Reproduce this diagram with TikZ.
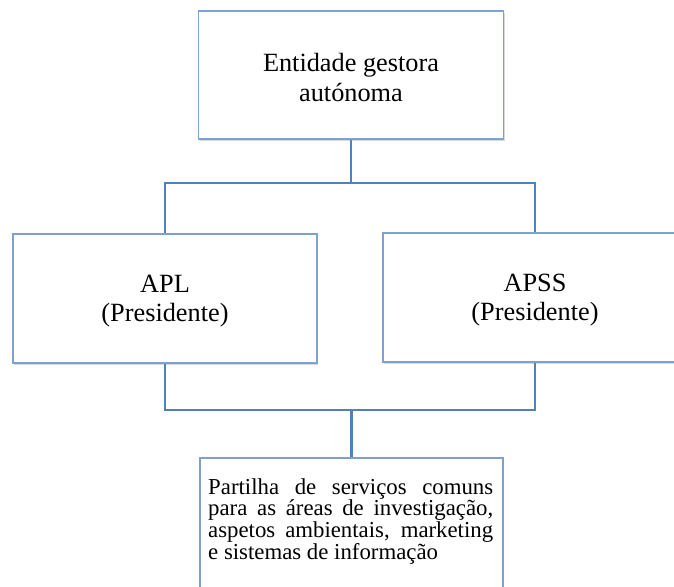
\documentclass[tikz,border=0pt]{standalone}
\usepackage{fontspec}
\setmainfont{Liberation Serif}
\usetikzlibrary{shadows}
\definecolor{linkblue}{RGB}{79,129,189}
\definecolor{boxblue}{RGB}{125,162,208}
\begin{document}
\begin{tikzpicture}[x=1pt,y=-1pt,
  orgbox/.style={draw=boxblue, line width=1.6pt, fill=white, rectangle, inner sep=0pt,
    drop shadow={shadow xshift=1.2pt, shadow yshift=-2pt, opacity=0.3, fill=black!50}},
  bigtext/.style={font=\fontsize{26.3}{30}\selectfont, align=center},
  link/.style={draw=linkblue, line width=2.8pt}]
\useasboundingbox (0,0) rectangle (674,586);
\clip (0,0) rectangle (674,586);
% boxes
\node[orgbox, minimum width=305pt, minimum height=128pt] (top) at (351,75) {};
\node[bigtext] at ([yshift=-3pt]top.center) {Entidade gestora\\autónoma};
\node[orgbox, minimum width=304pt, minimum height=129pt] (apl) at (165,298.5) {};
\node[bigtext, font=\fontsize{26.3}{29}\selectfont] at ([yshift=-3pt]apl.center) {APL\\(Presidente)};
\node[orgbox, minimum width=304pt, minimum height=129pt] (apss) at (535,297.5) {};
\node[bigtext, font=\fontsize{26.3}{29}\selectfont] at ([yshift=-3pt]apss.center) {APSS\\(Presidente)};
\node[orgbox, minimum width=303pt, minimum height=160pt] (bot) at (351.5,538) {};
\node[anchor=north west, inner sep=0pt, align=left, font=\fontsize{22.8}{20.5}\selectfont]
  (bottxt) at (208,478) {\makebox[285pt][s]{Partilha de serviços comuns}\\
  \makebox[285pt][s]{para as áreas de investigação,}\\
  \makebox[285pt][s]{aspetos ambientais, marketing}\\
  e sistemas de informação};
% connectors
\coordinate (j1) at (351,183);
\coordinate (j2) at (351.5,410);
\draw[link] (top.south) -- (j1);
\draw[link] (apl.north) |- (j1) -| (apss.north);
\draw[link] (apl.south) |- (j2) -| (apss.south);
\draw[link] (j2) -- (bot.north);
\end{tikzpicture}
\end{document}
